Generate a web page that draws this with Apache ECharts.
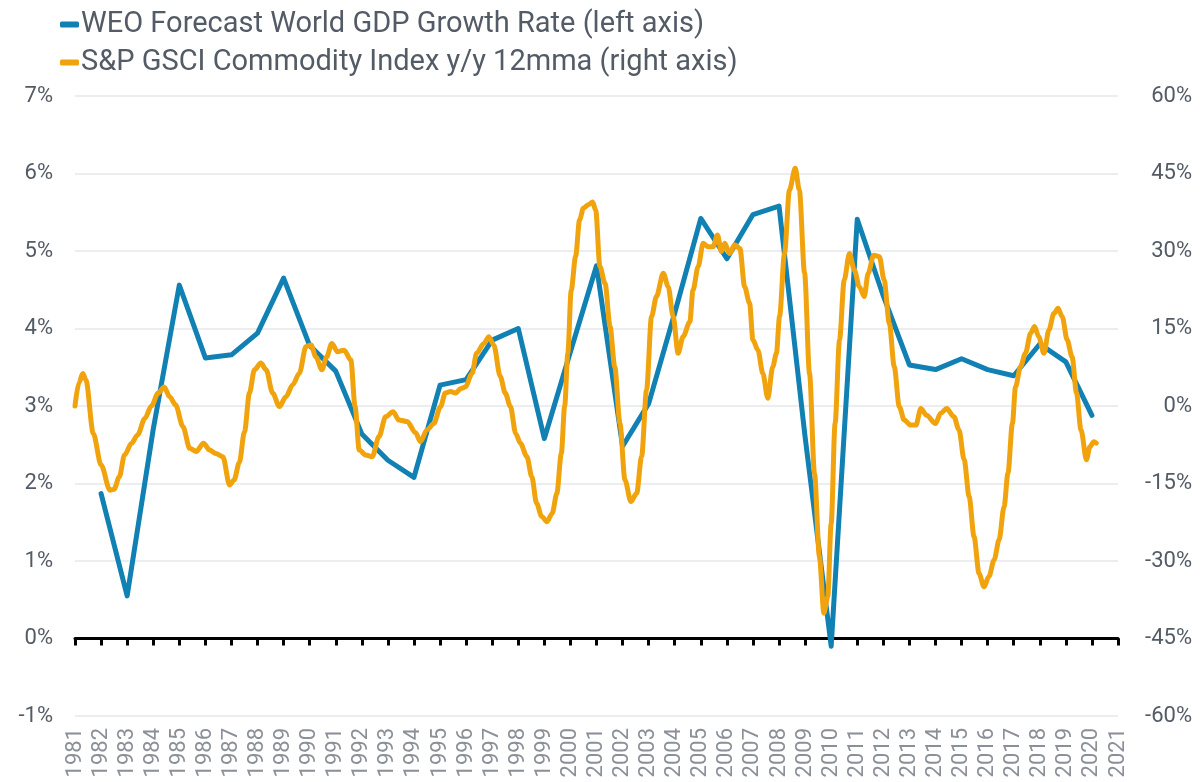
<!DOCTYPE html>
<html>
<head>
<meta charset="utf-8">
<script src="https://cdn.jsdelivr.net/npm/echarts@6/dist/echarts.min.js"></script>
<style>
  html, body { margin: 0; padding: 0; background: #fff; }
  #chart { width: 1201px; height: 782px; }
</style>
</head>
<body>
<div id="chart"></div>
<script>
// WEO forecast of world GDP growth (%), one point per year
var gdpYears = [1982, 1983, 1984, 1985, 1986, 1987, 1988, 1989, 1990, 1991, 1992, 1993, 1994, 1995,
  1996, 1997, 1998, 1999, 2000, 2001, 2002, 2003, 2004, 2005, 2006, 2007, 2008, 2009, 2010,
  2011, 2012, 2013, 2014, 2015, 2016, 2017, 2018, 2019, 2020];
var gdpValues = [1.87, 0.55, 2.7, 4.56, 3.62, 3.66, 3.94, 4.65, 3.78, 3.45, 2.64, 2.3, 2.08, 3.27,
  3.34, 3.85, 4.0, 2.58, 3.7, 4.81, 2.48, 3.03, 4.2, 5.42, 4.9, 5.47, 5.58, 2.6, -0.1,
  5.41, 4.42, 3.53, 3.47, 3.61, 3.47, 3.39, 3.8, 3.57, 2.88];

// S&P GSCI y/y 12mma (%) (decimal years)
var gsciDates = [1981.0, 1981.15, 1981.3, 1981.42, 1981.7, 1982.0, 1982.34, 1982.5, 1982.7, 1982.9,
  1983.17, 1983.4, 1983.68, 1983.93, 1984.19, 1984.42, 1984.63, 1984.86, 1985.14, 1985.4,
  1985.65, 1985.93, 1986.16, 1986.4, 1986.67, 1986.93, 1987.1, 1987.3, 1987.5, 1987.69,
  1987.88, 1988.13, 1988.33, 1988.58, 1988.84, 1989.09, 1989.35, 1989.6, 1989.86, 1990.05,
  1990.24, 1990.47, 1990.65, 1990.85, 1991.07, 1991.32, 1991.58, 1991.74, 1991.9, 1992.15,
  1992.4, 1992.66, 1992.91, 1993.2, 1993.42, 1993.74, 1994.06, 1994.25, 1994.5, 1994.76,
  1995.02, 1995.2, 1995.4, 1995.6, 1995.8, 1995.97, 1996.23, 1996.4, 1996.68, 1996.87,
  1997.06, 1997.31, 1997.5, 1997.7, 1997.9, 1998.08, 1998.33, 1998.52, 1998.7, 1998.9,
  1999.1, 1999.3, 1999.48, 1999.65, 1999.78, 1999.9, 2000.03, 2000.2, 2000.35, 2000.5,
  2000.7, 2000.85, 2000.97, 2001.13, 2001.33, 2001.52, 2001.7, 2001.9, 2002.09, 2002.32,
  2002.54, 2002.73, 2002.92, 2003.11, 2003.3, 2003.56, 2003.75, 2003.94, 2004.13, 2004.32,
  2004.58, 2004.7, 2004.9, 2005.09, 2005.28, 2005.47, 2005.64, 2005.79, 2005.92, 2006.1,
  2006.3, 2006.5, 2006.68, 2006.87, 2007.0, 2007.19, 2007.38, 2007.57, 2007.76, 2007.9,
  2008.02, 2008.21, 2008.4, 2008.62, 2008.78, 2008.98, 2009.17, 2009.36, 2009.55, 2009.72,
  2009.87, 2010.0, 2010.15, 2010.32, 2010.5, 2010.7, 2010.89, 2011.08, 2011.27, 2011.42,
  2011.63, 2011.85, 2012.03, 2012.23, 2012.42, 2012.61, 2012.8, 2013.05, 2013.25, 2013.44,
  2013.66, 2014.0, 2014.2, 2014.43, 2014.71, 2014.9, 2015.1, 2015.29, 2015.48, 2015.67,
  2015.86, 2016.05, 2016.25, 2016.44, 2016.63, 2016.78, 2016.95, 2017.07, 2017.26, 2017.45,
  2017.65, 2017.8, 2017.96, 2018.16, 2018.35, 2018.54, 2018.7, 2018.86, 2019.05, 2019.24,
  2019.41, 2019.58, 2019.79, 2019.92, 2020.07, 2020.17];
var gsciValues = [0, 4.5, 6.3, 5, -5.3, -11.4, -16.3, -16.1, -13.7, -9.5,
  -7.2, -5.6, -2.4, 0, 2.5, 3.7, 1.8, 0.2, -4, -8.2,
  -8.8, -7.2, -8.5, -9.2, -9.8, -15.3, -14.3, -11, -5, 2.5,
  7, 8.3, 7, 2.5, -0.1, 1.8, 4.1, 6.3, 11.5, 11.8,
  9.5, 7, 9.5, 12.1, 10.5, 10.8, 8.9, -0.1, -8.5, -9.5,
  -9.8, -5.9, -2.1, -1.1, -2.7, -3, -5.2, -6.9, -4.6, -3.4,
  -0.1, 2.5, 2.8, 2.5, 3.4, 3.7, 6.3, 10.2, 12.1, 13.4,
  11.8, 5.7, 2.5, -0.1, -5.3, -7.2, -9.8, -13.7, -18.8, -21.4,
  -22.4, -20.8, -16.9, -9.2, 0, 10.2, 22.4, 29, 36, 38.3,
  39, 39.5, 37.9, 27, 23.7, 15.4, 7.6, -3.4, -14.3, -18.5,
  -16.9, -9.8, 3.1, 17.3, 21.2, 25.7, 23.1, 17.3, 10.2, 13.4,
  16.3, 22.4, 27, 31.5, 30.8, 30.8, 33.1, 29.9, 31.5, 29.5,
  31.2, 30.5, 23.1, 19.9, 12.8, 10.8, 6.3, 1.5, 7.6, 10.2,
  17.3, 29.5, 41.8, 46, 41.8, 25.7, 6.3, -13, -29.2, -40.1,
  -36.9, -22.7, -3.4, 12.8, 24.4, 29.5, 26.3, 23.1, 21.2, 25.7,
  29.2, 28.9, 24.4, 16, 7.6, -0.1, -2.7, -3.7, -3.7, -0.5,
  -1.8, -3.4, -1.4, -0.5, -2.1, -4.6, -10.4, -17.5, -25.3, -32.4,
  -35, -33, -29.8, -25.9, -19.5, -13, -3.4, 3.7, 7.6, 10.2,
  14.1, 15.4, 13.4, 10.2, 14.7, 17.9, 18.9, 17.3, 12.8, 9.5,
  2.5, -4.6, -10.4, -7.9, -6.9, -7.2];

var gdpName = 'WEO Forecast World GDP Growth Rate (left axis)';
var gsciName = 'S&P GSCI Commodity Index y/y 12mma (right axis)';

var chart = echarts.init(document.getElementById('chart'));
var textColor = '#535b66';
var font = 'Roboto, "Noto Sans", sans-serif';

function pairs(xs, ys) {
  var out = [];
  for (var i = 0; i < xs.length; i++) {
    out.push([xs[i], ys[i]]);
  }
  return out;
}

var option = {
  animation: false,
  textStyle: { fontFamily: font },
  legend: {
    orient: 'vertical',
    left: 55,
    top: 5,
    itemGap: 9,
    itemWidth: 19,
    itemHeight: 6,
    icon: 'roundRect',
    textStyle: { fontSize: 29, color: textColor, fontFamily: font, padding: [0, 0, 0, -3] },
    data: [gdpName, gsciName]
  },
  grid: { left: 75, right: 83, top: 96, bottom: 66 },
  xAxis: [{
    type: 'value',
    min: 1981,
    max: 2021,
    interval: 1,
    axisLine: { show: false, onZero: false },
    axisTick: { show: false },
    splitLine: { show: false },
    axisLabel: {
      rotate: 90,
      margin: 12,
      fontSize: 22,
      color: '#8b9098',
      formatter: function (v) { return String(v); }
    }
  }, {
    // black zero line with year ticks
    type: 'value',
    min: 1981,
    max: 2021,
    interval: 1,
    position: 'bottom',
    axisLine: { show: true, onZero: true, onZeroAxisIndex: 0, lineStyle: { color: '#000', width: 3 } },
    axisTick: { show: true, length: 7, lineStyle: { color: '#000', width: 3 } },
    axisLabel: { show: false },
    splitLine: { show: false }
  }],
  yAxis: [{
    type: 'value',
    min: -1,
    max: 7,
    interval: 1,
    axisLine: { show: false },
    axisTick: { show: false },
    axisLabel: { fontSize: 22, color: textColor, margin: 22, formatter: '{value}%' },
    splitLine: { lineStyle: { color: '#e5e7ea', width: 1.5 } }
  }, {
    type: 'value',
    min: -60,
    max: 60,
    interval: 15,
    position: 'right',
    axisLine: { show: false },
    axisTick: { show: false },
    axisLabel: { fontSize: 22, color: textColor, margin: 74, align: 'right', formatter: '{value}%' },
    splitLine: { show: false }
  }],
  series: [{
    name: gdpName,
    type: 'line',
    xAxisIndex: 0,
    yAxisIndex: 0,
    data: pairs(gdpYears, gdpValues),
    showSymbol: false,
    color: '#1180b3',
    lineStyle: { width: 5, color: '#1180b3', cap: 'round', join: 'round' }
  }, {
    name: gsciName,
    type: 'line',
    xAxisIndex: 0,
    yAxisIndex: 1,
    data: pairs(gsciDates, gsciValues),
    showSymbol: false,
    smooth: 0.3,
    smoothMonotone: 'x',
    color: '#f0a30d',
    lineStyle: { width: 5, color: '#f0a30d', cap: 'round', join: 'round' }
  }]
};
chart.setOption(option);
</script>
</body>
</html>
